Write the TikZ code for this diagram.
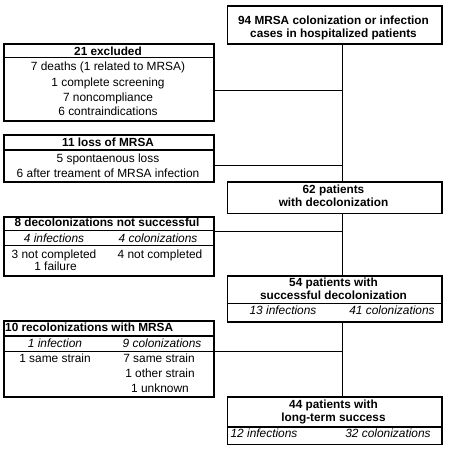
\documentclass[tikz,border=0pt]{standalone}
\usepackage{fontspec}
\setmainfont{Liberation Sans}
\begin{document}
\begin{tikzpicture}[x=1pt,y=-1pt,
  box/.style={draw, line width=1.6pt, inner sep=0pt, anchor=north west},
  sep/.style={line width=1.2pt},
  link/.style={line width=0.9pt},
  txt/.style={inner sep=0pt, anchor=base, font=\fontsize{11.9}{13}\selectfont},
  btxt/.style={txt, font=\fontsize{11.8}{13}\selectfont\bfseries},
  itxt/.style={txt, font=\fontsize{11.9}{13}\selectfont\itshape}]
\useasboundingbox (0,0) rectangle (459,451);
% boxes
\node[box, minimum width=214.5pt, minimum height=38pt] (top) at (226.5,5) {};
\node[box, minimum width=210pt, minimum height=77pt] (excl) at (3,43) {};
\node[box, minimum width=210pt, minimum height=47pt] (loss) at (3,134) {};
\node[box, minimum width=214.5pt, minimum height=31.5pt] (dec) at (226.5,181) {};
\node[box, minimum width=210pt, minimum height=59pt] (fail) at (3,216) {};
\node[box, minimum width=214.5pt, minimum height=46pt] (succ) at (226.5,275) {};
\node[box, minimum width=210pt, minimum height=76pt] (recol) at (3,320) {};
\node[box, minimum width=214.5pt, minimum height=47.5pt] (long) at (226.5,396) {};
% separators
\draw[sep] (excl.west |- {(0,57.5)}) -- (excl.east |- {(0,57.5)});
\draw[sep] (loss.west |- {(0,150)}) -- (loss.east |- {(0,150)});
\draw[sep] (fail.west |- {(0,230.5)}) -- (fail.east |- {(0,230.5)});
\draw[sep] (fail.west |- {(0,245.5)}) -- (fail.east |- {(0,245.5)});
\draw[sep] (succ.west |- {(0,303.5)}) -- (succ.east |- {(0,303.5)});
\draw[sep] (recol.west |- {(0,336)}) -- (recol.east |- {(0,336)});
\draw[sep] (recol.west |- {(0,351.5)}) -- (recol.east |- {(0,351.5)});
\draw[sep] (long.west |- {(0,427)}) -- (long.east |- {(0,427)});
% connectors
\coordinate (vx) at (342,0);
\draw[link] (top.south -| vx) -- (dec.north -| vx);
\draw[link] (dec.south -| vx) -- (succ.north -| vx);
\draw[link] (succ.south -| vx) -- (long.north -| vx);
\coordinate (c1) at (213,90);
\coordinate (c2) at (213,165);
\coordinate (c3) at (213,231);
\coordinate (c4) at (213,351);
\draw[link] (c1) -- (c1 -| vx);
\draw[link] (c2) -- (c2 -| vx);
\draw[link] (c3) -- (c3 -| vx);
\draw[link] (c4) -- (c4 -| vx);
% texts: top
\node[btxt] (t1) at (333.5,24) {94 MRSA colonization or infection};
\node[btxt] (t2) at (333.5,37) {cases in hospitalized patients};
% excluded
\node[btxt] (e0) at (108,55) {21 excluded};
\node[txt] (e1) at (108,70.7) {7 deaths (1 related to MRSA)};
\node[txt] (e2) at (108,86) {1 complete screening};
\node[txt] (e3) at (108,101) {7 noncompliance};
\node[txt] (e4) at (108,115.5) {6 contraindications};
% loss
\node[btxt] (l0) at (108,146.7) {11 loss of MRSA};
\node[txt] (l1) at (108,162.3) {5 spontaenous loss};
\node[txt] (l2) at (108,177.5) {6 after treament of MRSA infection};
% 62
\node[btxt] (d1) at (333.5,193.3) {62 patients};
\node[btxt] (d2) at (333.5,206.7) {with decolonization};
% not successful
\node[btxt] (f0) at (107,226.7) {8 decolonizations not successful};
\node[itxt] (f1) at (54,242.7) {4 infections};
\node[itxt] (f2) at (158,242.7) {4 colonizations};
\node[txt] (f3) at (54,258.3) {3 not completed};
\node[txt] (f4) at (55.5,270.5) {1 failure};
\node[txt] (f5) at (160,258.3) {4 not completed};
% 54
\node[btxt] (s1) at (333.5,286.7) {54 patients with};
\node[btxt] (s2) at (333.5,299.5) {successful decolonization};
\node[itxt] (s3) at (283,314.5) {13 infections};
\node[itxt] (s4) at (392,314.5) {41 colonizations};
% recolonizations
\node[btxt, anchor=base west] (r0) at (5,331.7) {10 recolonizations with MRSA};
\node[itxt] (r1) at (55,347.3) {1 infection};
\node[itxt] (r2) at (162,347.3) {9 colonizations};
\node[txt] (r3) at (55,362) {1 same strain};
\node[txt] (r4) at (159,362) {7 same strain};
\node[txt] (r5) at (160,377) {1 other strain};
\node[txt] (r6) at (160,392) {1 unknown};
% 44
\node[btxt] (g1) at (333.5,408.5) {44 patients with};
\node[btxt] (g2) at (333.5,421.7) {long-term success};
\node[itxt] (g3) at (264,437) {12 infections};
\node[itxt] (g4) at (388,437) {32 colonizations};
\end{tikzpicture}
\end{document}
